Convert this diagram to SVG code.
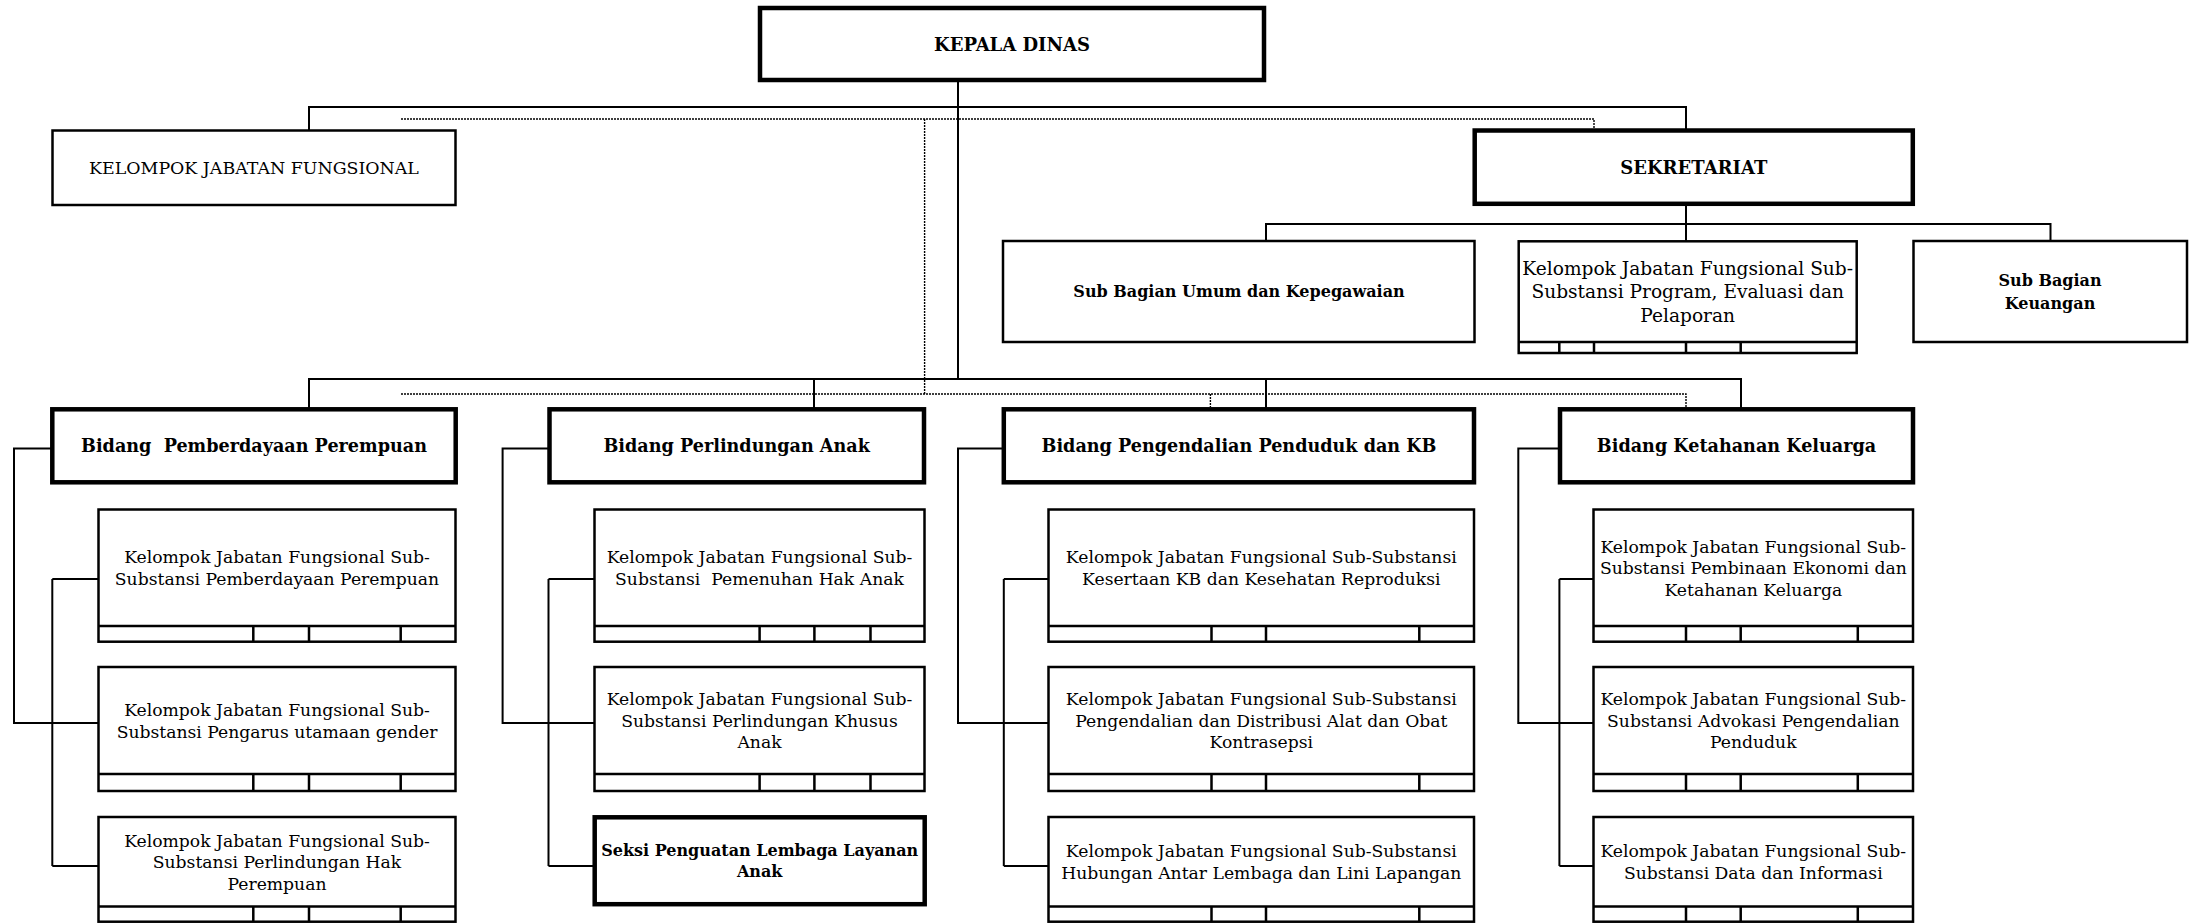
<svg xmlns="http://www.w3.org/2000/svg" width="2191" height="923" viewBox="0 0 2191 923">
<style>
.box{fill:#fff;stroke:#000;stroke-width:2.5}
.thick{fill:#fff;stroke:#000;stroke-width:4.5}
.ln{stroke:#000;stroke-width:2.5;fill:none}
.conn{stroke:#000;stroke-width:2;fill:none}
.dot{stroke:#000;stroke-width:1.4;stroke-dasharray:2 1;fill:none}
text{font-family:"DejaVu Serif","Liberation Serif",serif;fill:#000;text-anchor:middle}
.r{font-size:17.2px}
.rl{font-size:18.6px}
.b{font-weight:bold;font-size:16px}
.bt{font-weight:bold;font-size:17.6px}
.bh{font-weight:bold;font-size:18px}
.k{font-size:17.4px}
</style>
<rect width="2191" height="923" fill="#fff"/>
<g id="connectors">
<path class="conn" d="M958 82V379M309 130V107H1686V130M309 408V379H1741V408M814 379V408M1266 379V408"/>
<path class="conn" d="M1686 204V241M1266 241V224H2050.5V241"/>
<path class="dot" d="M401 119H1594V130M924.6 119V394M401 394H1686V407M1210.4 394V407"/>
<path class="conn" d="M52 448.6H14V723H98.5M52.3 579V866M52.3 579H98.5M52.3 866H98.5"/>
<path class="conn" d="M549 448.6H502.6V723H594.5M548.5 579V866M548.5 579H594.5M548.5 866H594.5"/>
<path class="conn" d="M1003 448.6H958V723H1048.5M1003.8 579V866M1003.8 579H1048.5M1003.8 866H1048.5"/>
<path class="conn" d="M1559 448.6H1518.3V723H1593.5M1559.4 579V866M1559.4 579H1593.5M1559.4 866H1593.5"/>
</g>
<g id="kepala-dinas">
<rect class="thick" x="760" y="8" width="504" height="72"/>
<text class="bh" x="1012" y="50.5">KEPALA DINAS</text>
</g>
<g id="kelompok-jabatan-fungsional">
<rect class="box" x="52.5" y="130.5" width="403" height="74.5"/>
<text class="k" x="254" y="174">KELOMPOK JABATAN FUNGSIONAL</text>
</g>
<g id="sekretariat">
<rect class="thick" x="1474.7" y="130.5" width="438.1" height="73.3"/>
<text class="bh" x="1693.8" y="173.7">SEKRETARIAT</text>
</g>
<g id="sub-bagian-umum">
<rect class="box" x="1003" y="241" width="471.5" height="101"/>
<text class="b" x="1239" y="297.1">Sub Bagian Umum dan Kepegawaian</text>
</g>
<g id="program-evaluasi">
<rect class="box" x="1518.7" y="241.3" width="338" height="111.7"/>
<path class="ln" d="M1518.7 342H1856.7M1559.3 342V353M1594 342V353M1686 342V353M1740.7 342V353"/>
<text class="rl" x="1687.7" y="275">Kelompok Jabatan Fungsional Sub-</text>
<text class="rl" x="1687.7" y="298.3">Substansi Program, Evaluasi dan</text>
<text class="rl" x="1687.7" y="321.6">Pelaporan</text>
</g>
<g id="sub-bagian-keuangan">
<rect class="box" x="1913.5" y="241" width="273.5" height="101"/>
<text class="b" x="2050" y="285.6">Sub Bagian</text>
<text class="b" x="2050" y="308.6">Keuangan</text>
</g>
<!-- Column 1 -->
<g id="bidang-pemberdayaan-perempuan">
<rect class="thick" x="52.3" y="409.3" width="403.4" height="73"/>
<text class="bt" x="254" y="452.1" xml:space="preserve">Bidang  Pemberdayaan Perempuan</text>
</g>
<g id="pp-1">
<rect class="box" x="98.5" y="509.5" width="357" height="132.2"/>
<path class="ln" d="M98.5 626H455.5M253.3 626V641.7M309 626V641.7M400.7 626V641.7"/>
<text class="r" x="277" y="563.2">Kelompok Jabatan Fungsional Sub-</text>
<text class="r" x="277" y="584.7">Substansi Pemberdayaan Perempuan</text>
</g>
<g id="pp-2">
<rect class="box" x="98.5" y="667" width="357" height="124"/>
<path class="ln" d="M98.5 774H455.5M253.3 774V791M309 774V791M400.7 774V791"/>
<text class="r" x="277" y="716">Kelompok Jabatan Fungsional Sub-</text>
<text class="r" x="277" y="737.5">Substansi Pengarus utamaan gender</text>
</g>
<g id="pp-3">
<rect class="box" x="98.5" y="817" width="357" height="104.7"/>
<path class="ln" d="M98.5 906.5H455.5M253.3 906.5V921.7M309 906.5V921.7M400.7 906.5V921.7"/>
<text class="r" x="277" y="846.5">Kelompok Jabatan Fungsional Sub-</text>
<text class="r" x="277" y="868">Substansi Perlindungan Hak</text>
<text class="r" x="277" y="889.5">Perempuan</text>
</g>
<!-- Column 2 -->
<g id="bidang-perlindungan-anak">
<rect class="thick" x="549.5" y="409.3" width="374.5" height="73"/>
<text class="bt" x="736.7" y="452.1">Bidang Perlindungan Anak</text>
</g>
<g id="pa-1">
<rect class="box" x="594.5" y="509.5" width="330" height="132.2"/>
<path class="ln" d="M594.5 626H924.5M759.6 626V641.7M814.4 626V641.7M870.5 626V641.7"/>
<text class="r" x="759.5" y="563.2">Kelompok Jabatan Fungsional Sub-</text>
<text class="r" x="759.5" y="584.7" xml:space="preserve">Substansi  Pemenuhan Hak Anak</text>
</g>
<g id="pa-2">
<rect class="box" x="594.5" y="667" width="330" height="124"/>
<path class="ln" d="M594.5 774H924.5M759.6 774V791M814.4 774V791M870.5 774V791"/>
<text class="r" x="759.5" y="705.2">Kelompok Jabatan Fungsional Sub-</text>
<text class="r" x="759.5" y="726.7">Substansi Perlindungan Khusus</text>
<text class="r" x="759.5" y="748.2">Anak</text>
</g>
<g id="seksi-penguatan">
<rect class="thick" x="594.7" y="817.3" width="330" height="86.9"/>
<text class="b" x="759.7" y="856">Seksi Penguatan Lembaga Layanan</text>
<text class="b" x="759.7" y="877">Anak</text>
</g>
<!-- Column 3 -->
<g id="bidang-pengendalian-penduduk">
<rect class="thick" x="1003.8" y="409.3" width="470.2" height="73"/>
<text class="bt" x="1239" y="452.1">Bidang Pengendalian Penduduk dan KB</text>
</g>
<g id="pd-1">
<rect class="box" x="1048.5" y="509.5" width="425.5" height="132.2"/>
<path class="ln" d="M1048.5 626H1474M1211.5 626V641.7M1266 626V641.7M1419.3 626V641.7"/>
<text class="r" x="1261.3" y="563.2">Kelompok Jabatan Fungsional Sub-Substansi</text>
<text class="r" x="1261.3" y="584.7">Kesertaan KB dan Kesehatan Reproduksi</text>
</g>
<g id="pd-2">
<rect class="box" x="1048.5" y="667" width="425.5" height="124"/>
<path class="ln" d="M1048.5 774H1474M1211.5 774V791M1266 774V791M1419.3 774V791"/>
<text class="r" x="1261.3" y="705.2">Kelompok Jabatan Fungsional Sub-Substansi</text>
<text class="r" x="1261.3" y="726.7">Pengendalian dan Distribusi Alat dan Obat</text>
<text class="r" x="1261.3" y="748.2">Kontrasepsi</text>
</g>
<g id="pd-3">
<rect class="box" x="1048.5" y="817" width="425.5" height="104.7"/>
<path class="ln" d="M1048.5 906.5H1474M1211.5 906.5V921.7M1266 906.5V921.7M1419.3 906.5V921.7"/>
<text class="r" x="1261.3" y="857.2">Kelompok Jabatan Fungsional Sub-Substansi</text>
<text class="r" x="1261.3" y="878.7">Hubungan Antar Lembaga dan Lini Lapangan</text>
</g>
<!-- Column 4 -->
<g id="bidang-ketahanan-keluarga">
<rect class="thick" x="1560" y="409.3" width="353" height="73"/>
<text class="bt" x="1736.5" y="452.1">Bidang Ketahanan Keluarga</text>
</g>
<g id="kk-1">
<rect class="box" x="1593.5" y="509.5" width="319.5" height="132.2"/>
<path class="ln" d="M1593.5 626H1913M1686 626V641.7M1740.7 626V641.7M1857.8 626V641.7"/>
<text class="r" x="1753.3" y="552.5">Kelompok Jabatan Fungsional Sub-</text>
<text class="r" x="1753.3" y="574">Substansi Pembinaan Ekonomi dan</text>
<text class="r" x="1753.3" y="595.5">Ketahanan Keluarga</text>
</g>
<g id="kk-2">
<rect class="box" x="1593.5" y="667" width="319.5" height="124"/>
<path class="ln" d="M1593.5 774H1913M1686 774V791M1740.7 774V791M1857.8 774V791"/>
<text class="r" x="1753.3" y="705.2">Kelompok Jabatan Fungsional Sub-</text>
<text class="r" x="1753.3" y="726.7">Substansi Advokasi Pengendalian</text>
<text class="r" x="1753.3" y="748.2">Penduduk</text>
</g>
<g id="kk-3">
<rect class="box" x="1593.5" y="817" width="319.5" height="104.7"/>
<path class="ln" d="M1593.5 906.5H1913M1686 906.5V921.7M1740.7 906.5V921.7M1857.8 906.5V921.7"/>
<text class="r" x="1753.3" y="857.2">Kelompok Jabatan Fungsional Sub-</text>
<text class="r" x="1753.3" y="878.7">Substansi Data dan Informasi</text>
</g>
</svg>
